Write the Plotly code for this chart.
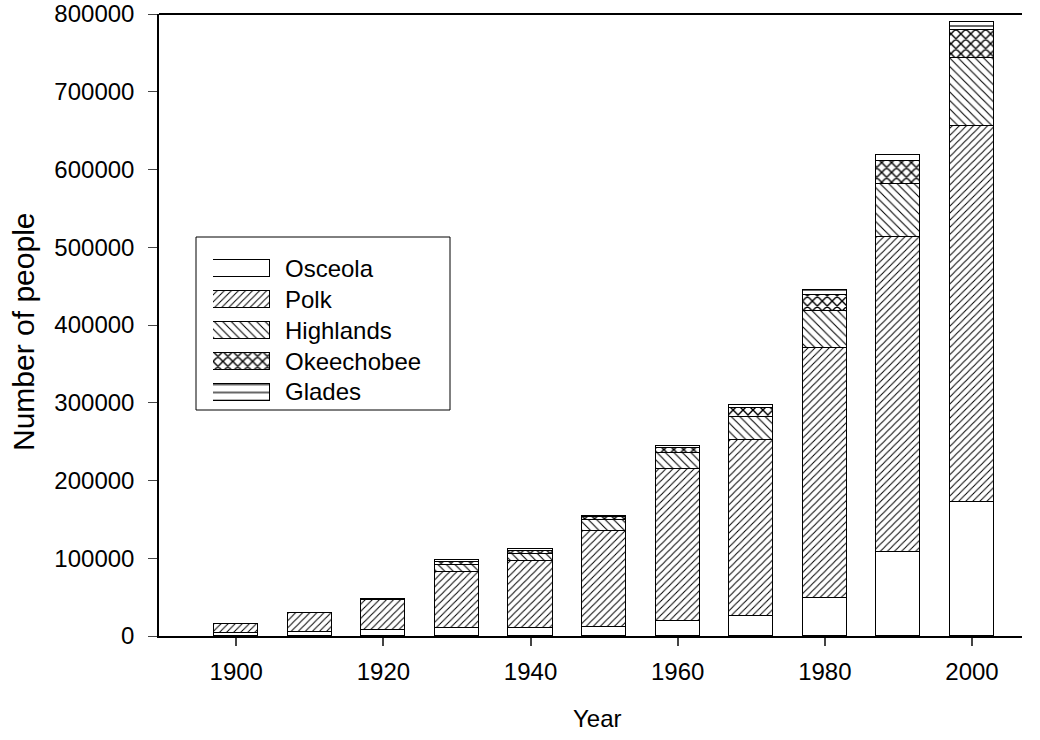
import plotly.graph_objects as go

# Census years and county populations (None where a county did not yet exist)
years = [1900, 1910, 1920, 1930, 1940, 1950, 1960, 1970, 1980, 1990, 2000]
counties = ["Osceola", "Polk", "Highlands", "Okeechobee", "Glades"]
osceola = [3444, 5577, 7195, 10300, 10119, 11406, 19029, 25267, 49287, 107728, 172493]
polk = [12472, 24148, 38661, 72291, 86665, 123997, 195139, 227222, 321652, 405382, 483924]
highlands = [None, None, None, 9192, 9246, 13636, 21338, 29507, 47526, 68432, 87366]
okeechobee = [None, None, 2132, 3000, 3001, 3454, 6424, 11233, 20264, 29627, 35910]
glades = [None, None, None, 2745, 2750, 2199, 2950, 3669, 5992, 7591, 10576]
y_ticks = [0, 100000, 200000, 300000, 400000, 500000, 600000, 700000, 800000]
x_ticks = [1900, 1920, 1940, 1960, 1980, 2000]

series = [osceola, polk, highlands, okeechobee, glades]
patterns = ["", "/", "\\", "x", "-"]
pattern_sizes = [5, 5, 6, 7, 8]
pattern_solidity = [0.2, 0.2, 0.18, 0.36, 0.15]

FONT = "Liberation Sans, Arial, sans-serif"


def bar_marker(shape, psize, solid):
    return dict(
        color="white",
        line=dict(color="black", width=1),
        pattern=dict(shape=shape, fgcolor="black", bgcolor="white",
                     size=psize, solidity=solid, fgopacity=1),
    )


fig = go.Figure()
for name, vals, shape, psize, solid in zip(counties, series, patterns,
                                           pattern_sizes, pattern_solidity):
    fig.add_trace(go.Bar(
        x=years, y=vals, name=name, width=6,
        marker=bar_marker(shape, psize, solid), showlegend=False,
    ))

# Key drawn as horizontal bars on an inset axis
key_pos = list(range(len(counties)))
for i, (shape, psize, solid) in enumerate(zip(patterns, pattern_sizes, pattern_solidity)):
    fig.add_trace(go.Bar(
        x=[1], y=[key_pos[i]], base=0, orientation="h", width=0.52,
        xaxis="x2", yaxis="y2", showlegend=False, hoverinfo="skip",
        marker=bar_marker(shape, psize, solid),
    ))

# plot area in pixels
L, R, T, B = 159, 1022, 14, 636
W, H = R - L, B - T


def px_x(p):
    return (p - L) / W


def px_y(p):
    return (B - p) / H


row_y = [268, 299, 330, 361, 392]
for name, ry in zip(counties, row_y):
    fig.add_annotation(x=px_x(283), y=px_y(ry), xref="paper", yref="paper",
                       text=name, showarrow=False, xanchor="left", yanchor="middle",
                       font=dict(family=FONT, size=24, color="black"))

fig.add_shape(type="rect", xref="paper", yref="paper",
              x0=px_x(196), x1=px_x(450), y0=px_y(410), y1=px_y(237),
              line=dict(color="black", width=1), fillcolor="rgba(0,0,0,0)")

# axis titles
fig.add_annotation(x=px_x(597), y=px_y(718), xref="paper", yref="paper",
                   text="Year", showarrow=False, xanchor="center", yanchor="middle",
                   font=dict(family=FONT, size=24, color="black"))
fig.add_annotation(x=px_x(23), y=px_y(332), xref="paper", yref="paper",
                   text="Number of people", showarrow=False, textangle=-90,
                   xanchor="center", yanchor="middle",
                   font=dict(family=FONT, size=30, color="black"))

fig.update_layout(
    width=1040, height=740,
    margin=dict(l=L, r=1040 - R, t=T, b=740 - B, autoexpand=False),
    paper_bgcolor="white", plot_bgcolor="white",
    barmode="stack", bargap=0,
    font=dict(family=FONT, size=24, color="black"),
    xaxis=dict(
        range=[1889.5, 2006.8], tickvals=x_ticks, ticks="outside", ticklen=8,
        tickwidth=1.5, showline=True, linecolor="black", linewidth=2,
        showgrid=False, zeroline=False, automargin=False,
        tickfont=dict(size=24), ticklabelstandoff=5,
    ),
    yaxis=dict(
        range=[0, 800000], tickvals=y_ticks, ticks="outside", ticklen=9,
        tickwidth=1, showline=True, linecolor="black", linewidth=1.5,
        showgrid=False, zeroline=False, tickformat="d", automargin=False,
        tickfont=dict(size=24), ticklabelstandoff=9,
    ),
    xaxis2=dict(domain=[px_x(213), px_x(270)], range=[0, 1], visible=False,
                anchor="y2", fixedrange=True),
    yaxis2=dict(domain=[px_y(407.5), px_y(252.5)], range=[4.5, -0.5], visible=False,
                anchor="x2", fixedrange=True),
)

# top frame line
fig.add_shape(type="line", xref="paper", yref="paper", x0=0, x1=1, y0=1, y1=1,
              line=dict(color="black", width=2))

fig.write_html("out.html")
